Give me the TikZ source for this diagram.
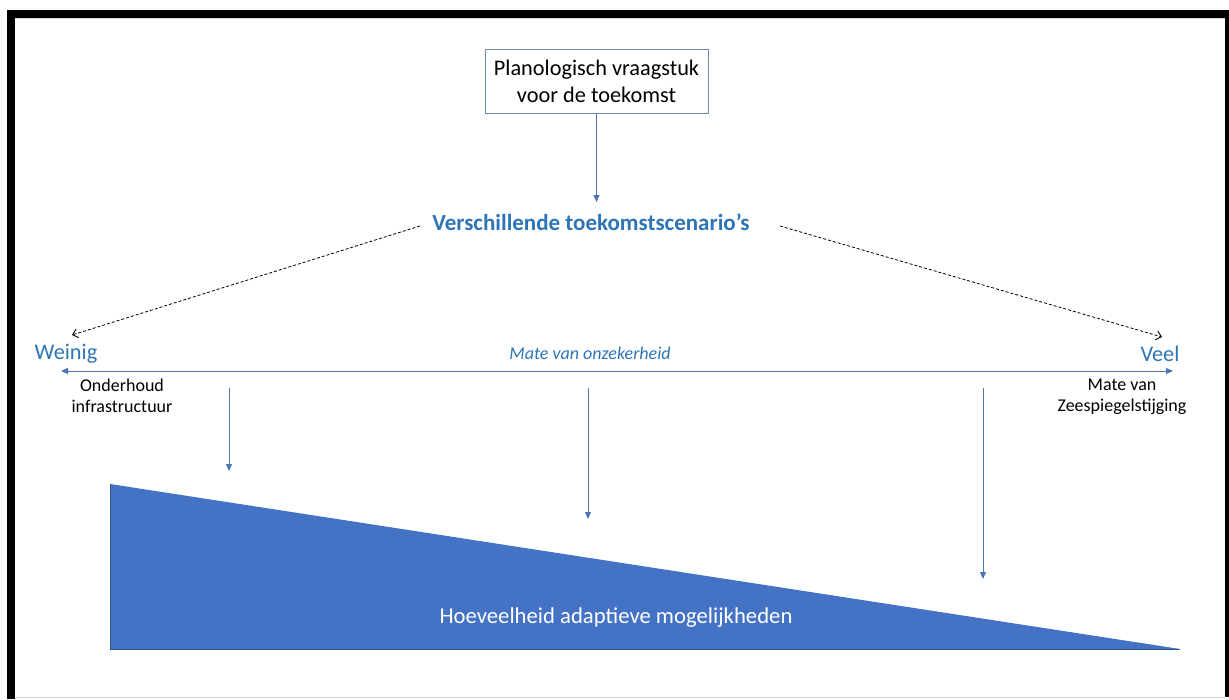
\documentclass[tikz,border=0pt]{standalone}
\usepackage{fontspec}
\setmainfont{Carlito}
\usetikzlibrary{arrows.meta}
\definecolor{txtblue}{HTML}{2E75B6}
\definecolor{lineblue}{HTML}{4F74B2}
\definecolor{fillblue}{HTML}{4472C4}
\definecolor{boxline}{HTML}{6A8AB0}
\tikzset{
  fs/.style 2 args={font=\fontsize{#1}{#2}\selectfont},
  flowarrow/.style={draw=lineblue, line width=1pt, -{Triangle[length=7pt,width=6pt]}},
  dasharrow/.style={draw=black, line width=0.8pt, dash pattern=on 3pt off 2pt, -{Straight Barb[length=5pt,width=9pt,line width=0.9pt]}},
}
\begin{document}
\begin{tikzpicture}[x=1pt,y=-1pt]
\useasboundingbox (0,0) rectangle (1229,699);
\fill[white] (0,0) rectangle (1229,699);
% frame
\fill[black] (7,10) rectangle (1229,18);
\fill[black] (7,10) rectangle (15,699);
\fill[black] (1225,10) rectangle (1229,697);
\draw[gray!35, line width=1pt] (15,697.5) -- (1225,697.5);
\draw[gray!30, line width=0.8pt] (15,18.6) -- (1225,18.6);

% top box
\node[draw=boxline, line width=1pt, minimum width=223pt, minimum height=64pt, align=center, fs={22.3}{27}, inner sep=0pt] (box) at (596.5,81) {Planologisch vraagstuk\\voor de toekomst};
\node[font=\bfseries\fontsize{23}{27}\selectfont, text=txtblue] (scen) at (591,222) {Verschillende toekomstscenario’s};
\coordinate (scenin) at (596.5,202);
\draw[flowarrow] (box.south) -- (scenin);

% dashed arrows
\coordinate (dl0) at (420,226);
\coordinate (dl1) at (72,335);
\coordinate (dr0) at (780,226);
\coordinate (dr1) at (1162,337);
\draw[dasharrow] (dl0) -- (dl1);
\draw[dasharrow] (dr0) -- (dr1);

% axis
\node[fs={22.3}{26}, text=txtblue] (weinig) at (66,354) {Weinig};
\node[fs={22.3}{26}, text=txtblue] (veel) at (1160,354) {Veel};
\node[font=\itshape\fontsize{18}{21}\selectfont, text=txtblue] (mate) at (590,353) {Mate van onzekerheid};
\coordinate (axl) at (61,371);
\coordinate (axr) at (1173,371);
\draw[draw=lineblue, line width=1pt, {Triangle[length=7pt,width=6pt]}-{Triangle[length=7pt,width=6pt]}] (axl) -- (axr);

\node[fs={18}{20.5}, align=center, text=black, inner sep=0pt] (onder) at (122,396) {Onderhoud\\infrastructuur};
\node[fs={18}{20.5}, align=center, text=black, inner sep=0pt] (zee) at (1122,397) {Mate van\\Zeespiegelstijging};

% vertical arrows
\coordinate (v1a) at (229,388);
\coordinate (v1b) at (229,471);
\coordinate (v2a) at (588,388);
\coordinate (v2b) at (588,519);
\coordinate (v3a) at (983,388);
\coordinate (v3b) at (983,579);
\draw[flowarrow] (v1a) -- (v1b);
\draw[flowarrow] (v2a) -- (v2b);
\draw[flowarrow] (v3a) -- (v3b);

% triangle
\fill[fillblue] (110,484) -- (110,649) -- (1180,649) -- cycle;
\draw[fillblue!70!black, line width=0.6pt] (110,484) -- (110,649) -- (1180,649);
\node[fs={22.7}{26}, text=white] (hoev) at (616,618) {Hoeveelheid adaptieve mogelijkheden};
\end{tikzpicture}
\end{document}
